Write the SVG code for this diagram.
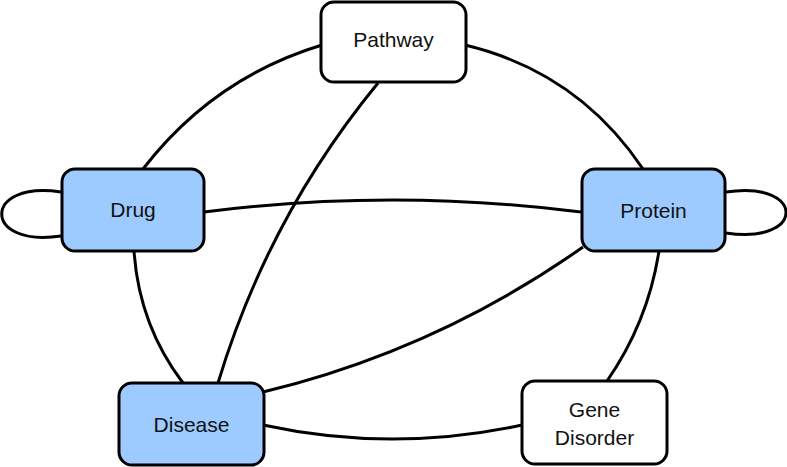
<svg xmlns="http://www.w3.org/2000/svg" width="787" height="467" viewBox="0 0 787 467">
  <style>
    .edge { fill: none; stroke: #000; stroke-width: 3; }
    .node rect { stroke: #000; stroke-width: 3; }
    .blue rect { fill: #9ECBFF; }
    .white rect { fill: #FFFFFF; }
    .node text { font-family: "Liberation Sans", Arial, Helvetica, sans-serif; font-size: 21px; fill: #111; text-anchor: middle; }
  </style>
  <rect width="787" height="467" fill="#FFFFFF"/>
  <g id="connectors">
    <path class="edge" d="M61,192 C -18,180 -18,248 61,236"/>
    <path class="edge" d="M726,192 C 806,180 806,245 726,233"/>
    <path class="edge" d="M322,45 Q 213,78 143,169"/>
    <path class="edge" d="M465,45 Q 578,72 643,169"/>
    <path class="edge" d="M378,83 Q 268,217 218,383"/>
    <path class="edge" d="M204,212 Q 392,188 581,212"/>
    <path class="edge" d="M134,251 Q 139,325 183,383"/>
    <path class="edge" d="M583,247 Q 437,350 263,392"/>
    <path class="edge" d="M659,251 Q 648,322 607,381"/>
    <path class="edge" d="M263,425 Q 392,453 522,425"/>
  </g>
  <g id="pathway" class="node white">
    <rect x="321" y="2" width="145" height="80" rx="13"/>
    <text x="393.5" y="47">Pathway</text>
  </g>
  <g id="drug" class="node blue">
    <rect x="62" y="169" width="142" height="82" rx="13"/>
    <text x="133" y="217">Drug</text>
  </g>
  <g id="protein" class="node blue">
    <rect x="582" y="169" width="143" height="82" rx="13"/>
    <text x="653.5" y="218">Protein</text>
  </g>
  <g id="disease" class="node blue">
    <rect x="119" y="383" width="145" height="82" rx="13"/>
    <text x="191.5" y="432">Disease</text>
  </g>
  <g id="gene-disorder" class="node white">
    <rect x="522" y="381" width="145" height="83" rx="13"/>
    <text x="594.5" y="416.5">Gene</text>
    <text x="594.5" y="445">Disorder</text>
  </g>
</svg>
